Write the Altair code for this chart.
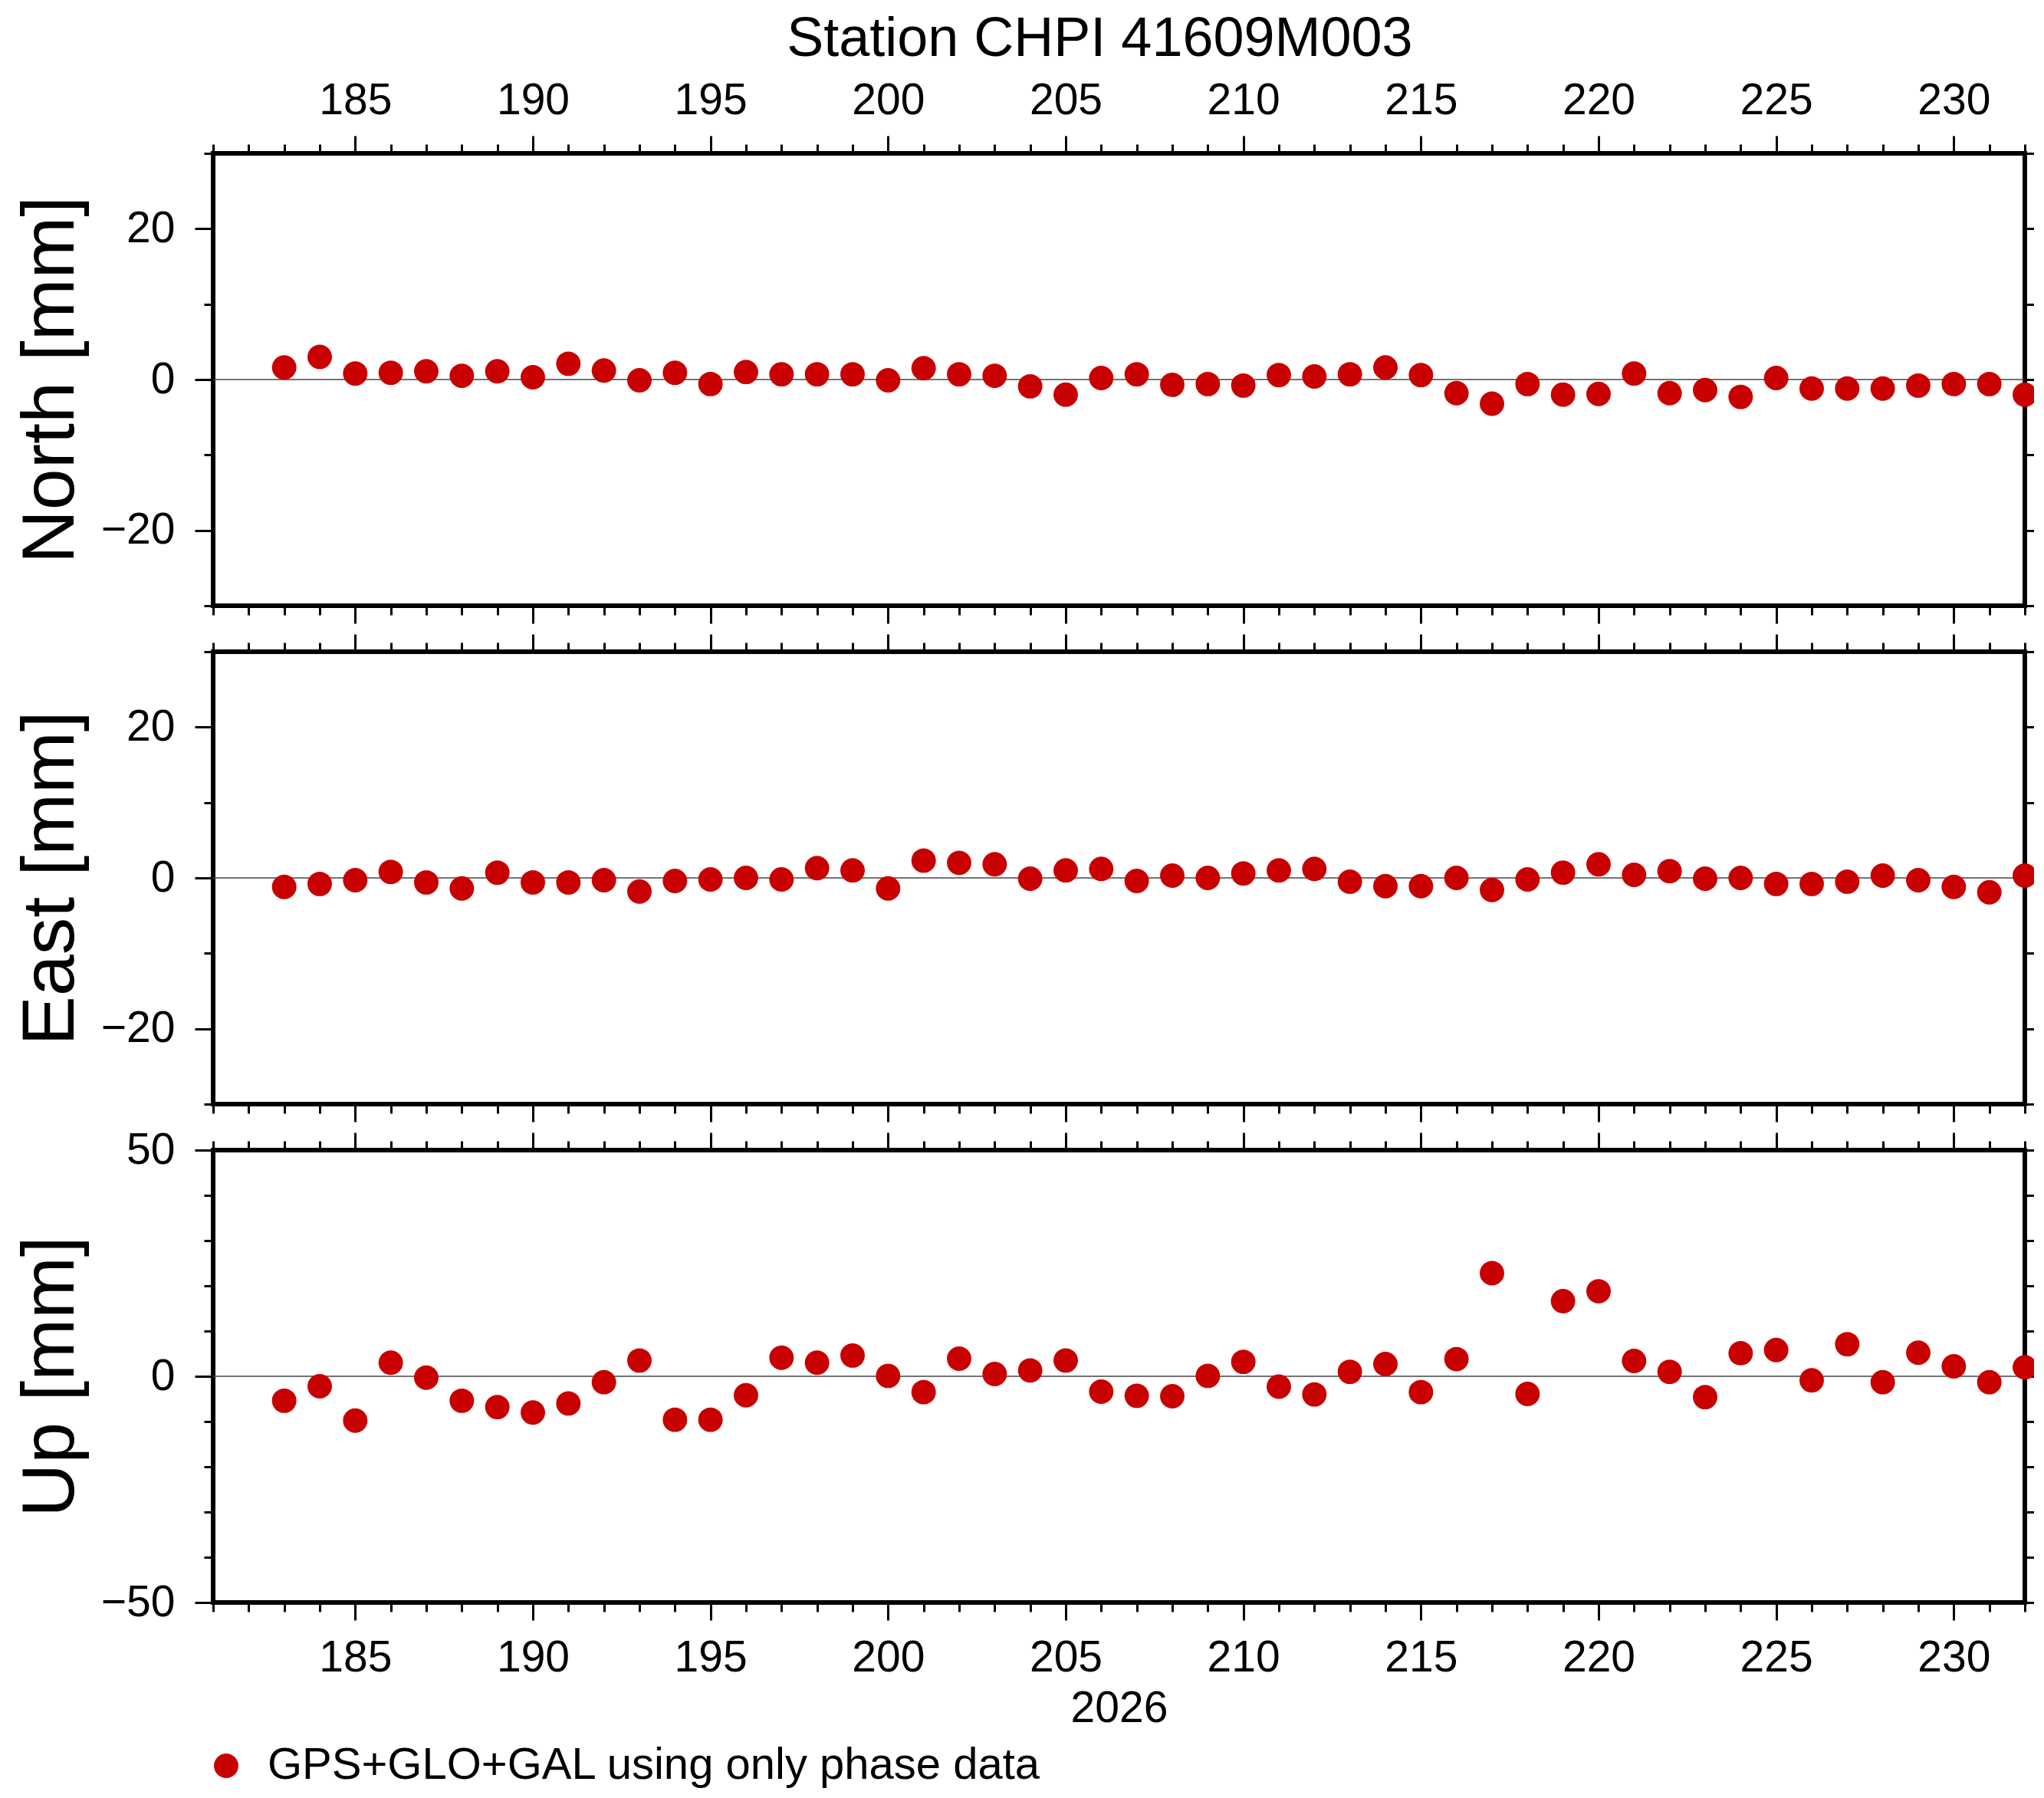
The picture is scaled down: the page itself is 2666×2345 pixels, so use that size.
import altair as alt
import pandas as pd

# ---------------- data ----------------
days = list(range(183, 233))
north = [1.6, 3.0, 0.8, 0.9, 1.1, 0.5, 1.1, 0.3, 2.1, 1.2,
         -0.1, 0.9, -0.6, 1.0, 0.7, 0.7, 0.7, -0.1, 1.5, 0.7,
         0.5, -0.9, -2.0, 0.2, 0.7, -0.7, -0.6, -0.8, 0.6, 0.4,
         0.7, 1.6, 0.6, -1.8, -3.2, -0.6, -2.0, -1.9, 0.8, -1.8,
         -1.4, -2.3, 0.2, -1.2, -1.2, -1.2, -0.8, -0.6, -0.6, -2.0]
east = [-1.2, -0.8, -0.3, 0.8, -0.6, -1.4, 0.7, -0.6, -0.6, -0.3,
        -1.8, -0.4, -0.2, 0.0, -0.2, 1.3, 1.0, -1.4, 2.3, 2.0,
        1.8, -0.1, 1.0, 1.2, -0.4, 0.3, 0.0, 0.6, 1.0, 1.2,
        -0.5, -1.1, -1.1, 0.0, -1.6, -0.2, 0.7, 1.8, 0.4, 0.9,
        -0.1, 0.0, -0.8, -0.8, -0.5, 0.3, -0.3, -1.2, -1.9, 0.3]
up = [-5.4, -2.2, -9.8, 3.0, -0.3, -5.4, -6.8, -8.0, -6.0, -1.3,
      3.5, -9.6, -9.6, -4.2, 4.1, 3.0, 4.6, 0.1, -3.5, 3.9,
      0.5, 1.3, 3.5, -3.4, -4.3, -4.4, 0.1, 3.2, -2.3, -4.0,
      1.0, 2.7, -3.5, 3.8, 22.8, -3.9, 16.6, 18.8, 3.4, 1.0,
      -4.6, 5.1, 5.8, -0.9, 7.1, -1.3, 5.2, 2.2, -1.3, 2.0]
series_name = "GPS+GLO+GAL using only phase data"
chart_title = "Station CHPI 41609M003"
x_title = "2026"
x_domain = [181, 232]
x_ticks = list(range(181, 233))
ne_domain = [-30, 30]
ne_ticks = list(range(-30, 31, 10))
up_domain = [-50, 50]
up_ticks = list(range(-50, 51, 10))

df = pd.DataFrame({"day": days, "north": north, "east": east, "up": up,
                   "series": [series_name] * len(days)})
zero_df = pd.DataFrame({"zero": [0]})

FONT = "Liberation Sans"
RED = "#c80000"
W, H = 2363, 590


def tsize(mod, major, minor):
    return {"condition": {"test": f"datum.value % {mod} === 0", "value": major},
            "value": minor}


def make_axis(orient, values, mod, major, minor, labels, pad,
              title=None, title_size=57, title_pad=10):
    kw = dict(orient=orient, values=values, tickSize=tsize(mod, major, minor),
              tickWidth=3, tickColor="black", domain=False, grid=False,
              labelFlush=False, labelOverlap=False, labelBound=False,
              labelFont=FONT, labelFontSize=57, labelColor="black",
              labelPadding=pad, titleFont=FONT, titleFontSize=title_size,
              titleFontWeight="normal", titleColor="black",
              titlePadding=title_pad, title=title)
    if labels:
        kw["labelExpr"] = f"datum.value % {mod} === 0 ? datum.label : ''"
    else:
        kw["labels"] = False
    return alt.Axis(**kw)


def panel(field, ytitle, ydom, yvals, ymod, top_labels, bottom_labels, xtitle, legend):
    xs = alt.Scale(domain=x_domain, nice=False, zero=False)
    ys = alt.Scale(domain=ydom, nice=False, zero=False)
    rule = alt.Chart(zero_df).mark_rule(color="#444444", strokeWidth=1.5).encode(
        y=alt.Y("zero:Q", scale=ys, axis=None))
    frame_axes = alt.Chart(df).mark_point(opacity=0).encode(
        x=alt.X("day:Q", scale=xs,
                axis=make_axis("top", x_ticks, 5, 23, 12, top_labels, 17)),
        y=alt.Y(f"{field}:Q", scale=ys,
                axis=make_axis("right", yvals, ymod, 17, 12, False, 0)))
    pts = alt.Chart(df).mark_circle(size=1018, opacity=1, color=RED).encode(
        x=alt.X("day:Q", scale=xs,
                axis=make_axis("bottom", x_ticks, 5, 23, 12, bottom_labels, 21,
                               title=xtitle, title_pad=10)),
        y=alt.Y(f"{field}:Q", scale=ys,
                axis=make_axis("left", yvals, ymod, 24, 12, True, 26,
                               title=ytitle, title_size=97, title_pad=16)))
    if legend:
        pts = pts.encode(color=alt.Color(
            "series:N",
            scale=alt.Scale(domain=[series_name], range=[RED]),
            legend=alt.Legend(orient="none", legendX=-12, legendY=2074, title=None,
                              labelFont=FONT, labelFontSize=58, labelColor="black",
                              labelLimit=0,
                              symbolType="circle", symbolSize=1018, symbolStrokeWidth=0,
                              labelOffset=25, padding=0, rowPadding=0)))
    return alt.layer(rule, frame_axes, pts).resolve_axis(
        x="independent", y="independent").properties(width=W, height=H)


p1 = panel("north", "North [mm]", ne_domain, ne_ticks, 20, True, False, None, False)
p2 = panel("east", "East [mm]", ne_domain, ne_ticks, 20, False, False, None, False)
p3 = panel("up", "Up [mm]", up_domain, up_ticks, 50, False, True, x_title, True)

chart = alt.vconcat(p1, p2, p3, spacing=60, bounds="flush").properties(
    title=alt.TitleParams(chart_title, font=FONT, fontSize=72, fontWeight="normal",
                          color="black", anchor="middle", offset=11, dx=96),
    padding={"left": 6, "top": 7, "right": -10, "bottom": 0},
).configure(font=FONT, view=alt.ViewConfig(stroke="black", strokeWidth=6))

chart.save("out.html", embed_options={"renderer": "svg", "actions": False})
